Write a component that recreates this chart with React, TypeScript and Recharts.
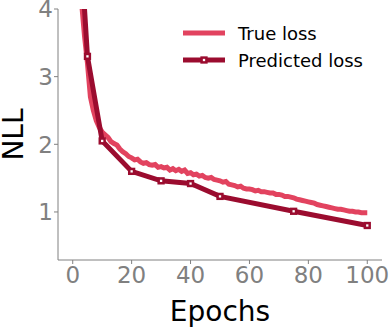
import { LineChart, Line, XAxis, YAxis } from 'recharts';

const trueEpochs = Array.from({ length: 100 }, (_, i) => i + 1);
const trueLoss = [
  6.5, 5.3, 4.1, 3.6, 3.2, 2.7, 2.5, 2.35, 2.25, 2.18,
  2.14, 2.1, 2.04, 2.01, 1.99, 1.93, 1.89, 1.86, 1.82, 1.8,
  1.77, 1.78, 1.74, 1.72, 1.73, 1.7, 1.69, 1.7, 1.66, 1.67,
  1.65, 1.66, 1.62, 1.64, 1.61, 1.63, 1.6, 1.62, 1.57, 1.58,
  1.55, 1.56, 1.53, 1.54, 1.51, 1.5, 1.51, 1.48, 1.47, 1.46,
  1.44, 1.45, 1.41, 1.4, 1.39, 1.37, 1.38, 1.35, 1.34, 1.34,
  1.33, 1.31, 1.32, 1.3, 1.3, 1.29, 1.28, 1.28, 1.26, 1.26,
  1.25, 1.23, 1.23, 1.22, 1.21, 1.19, 1.18, 1.17, 1.16, 1.15,
  1.14, 1.13, 1.11, 1.1, 1.09, 1.08, 1.07, 1.06, 1.05, 1.04,
  1.04, 1.03, 1.02, 1.01, 1.01, 1.0, 1.0, 0.99, 0.99, 0.99,
];

const predEpochs = [1, 5, 10, 20, 30, 40, 50, 75, 100];
const predLoss = [6.1, 3.3, 2.05, 1.6, 1.46, 1.42, 1.23, 1.01, 0.8];

const xTicks = [0, 20, 40, 60, 80, 100];
const yTicks = [1, 2, 3, 4];

const TRUE_COLOR = '#e2435f';
const PRED_COLOR = '#9b0c2f';
const GREY = '#808080';
const FONT = 'DejaVu Sans';
const TICK_SIZE = 23;

const trueData = trueEpochs.map((e, i) => ({ epoch: e, value: trueLoss[i] }));
const predData = predEpochs.map((e, i) => ({ epoch: e, value: predLoss[i] }));

const SquareDot = (props: any) => {
  const { cx, cy, index } = props;
  if (cx == null || cy == null) return null;
  return (
    <rect
      key={`sq-${index}`}
      x={cx - 2.4}
      y={cy - 2.4}
      width={4.8}
      height={4.8}
      fill="#fff"
      stroke={PRED_COLOR}
      strokeWidth={2.5}
    />
  );
};

const XTick = (props: any) => {
  const { x, y, payload } = props;
  return (
    <text x={x} y={y + 16} textAnchor="middle" fontFamily={FONT} fontSize={TICK_SIZE} fill={GREY}>
      {payload.value}
    </text>
  );
};

const YTick = (props: any) => {
  const { x, y, payload } = props;
  return (
    <text x={x + 2} y={y + 8.4} textAnchor="end" fontFamily={FONT} fontSize={TICK_SIZE} fill={GREY}>
      {payload.value}
    </text>
  );
};

// legend drawn as an overlay so it does not take space from the plot
const LegendBox = () => (
  <div style={{ position: 'absolute', left: 183, top: 20, fontFamily: FONT, fontSize: 18, color: '#000' }}>
    {[
      { name: 'True loss', color: TRUE_COLOR, marker: false },
      { name: 'Predicted loss', color: PRED_COLOR, marker: true },
    ].map((it) => (
      <div key={it.name} style={{ display: 'flex', alignItems: 'center', height: 26.7 }}>
        <svg width={42} height={10} style={{ marginRight: 13 }}>
          <line x1={0} y1={5} x2={42} y2={5} stroke={it.color} strokeWidth={5} />
          {it.marker && (
            <rect x={18.6} y={2.6} width={4.8} height={4.8} fill="#fff" stroke={it.color} strokeWidth={2.5} />
          )}
        </svg>
        <span>{it.name}</span>
      </div>
    ))}
  </div>
);

export default function App() {
  return (
    <div style={{ position: 'absolute', left: 0, top: 0, width: 390, height: 327, background: '#fff' }}>
      <LineChart width={390} height={327} margin={{ top: 9, right: 8, left: 0, bottom: 0 }}>
        <XAxis
          dataKey="epoch"
          type="number"
          domain={[-5, 105]}
          ticks={xTicks}
          allowDataOverflow
          height={67}
          stroke={GREY}
          tickSize={4}
          tickMargin={3}
          tick={<XTick />}
          label={{
            content: (p: any) => {
              const vb = p.viewBox;
              return (
                <text x={vb.x + vb.width / 2} y={vb.y + 61} textAnchor="middle" fontFamily={FONT} fontSize={28} fill="#000">
                  Epochs
                </text>
              );
            },
          }}
        />
        <YAxis
          type="number"
          domain={[0.29, 4]}
          ticks={yTicks}
          allowDataOverflow
          width={58}
          stroke={GREY}
          tickSize={4}
          tickMargin={3}
          tick={<YTick />}
          label={{
            content: (p: any) => {
              const vb = p.viewBox;
              const cx = 23;
              const cy = vb.y + vb.height / 2;
              return (
                <text
                  x={cx}
                  y={cy}
                  transform={`rotate(-90, ${cx}, ${cy})`}
                  textAnchor="middle"
                  fontFamily={FONT}
                  fontSize={28}
                  fill="#000"
                >
                  NLL
                </text>
              );
            },
          }}
        />
        <Line
          data={trueData}
          dataKey="value"
          name="True loss"
          stroke={TRUE_COLOR}
          strokeWidth={5}
          dot={false}
          type="linear"
          isAnimationActive={false}
        />
        <Line
          data={predData}
          dataKey="value"
          name="Predicted loss"
          stroke={PRED_COLOR}
          strokeWidth={5}
          dot={<SquareDot />}
          type="linear"
          isAnimationActive={false}
        />
      </LineChart>
      <LegendBox />
    </div>
  );
}
